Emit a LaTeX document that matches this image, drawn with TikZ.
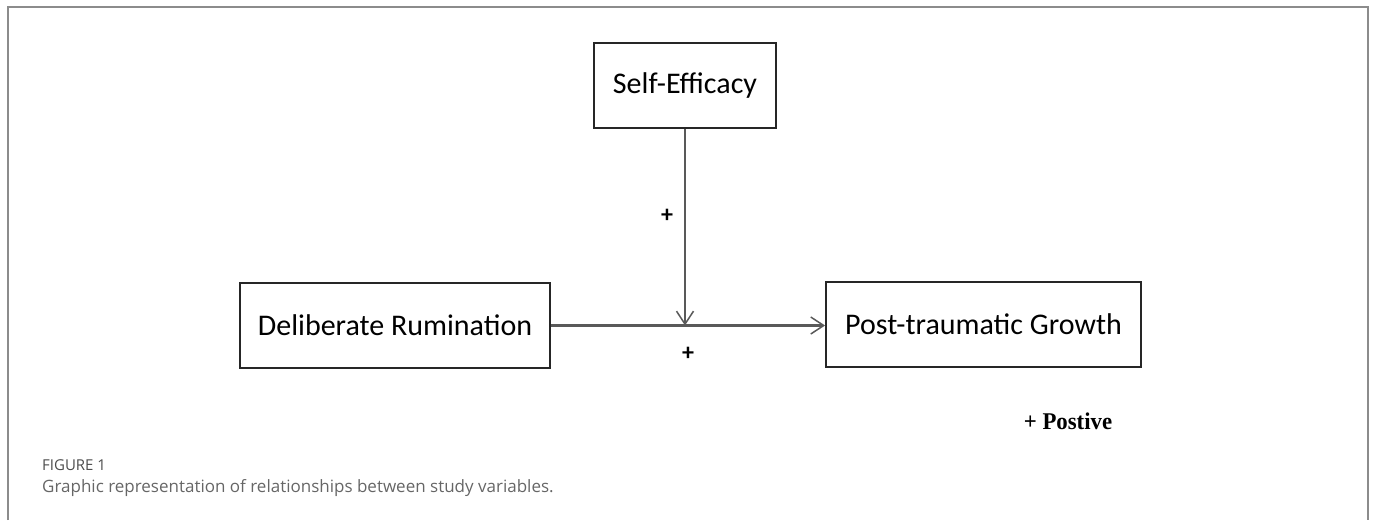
\documentclass[tikz,border=0pt]{standalone}
\usepackage{fontspec}
\setmainfont{Carlito}
\newfontfamily\capfont{Open Sans}
\newfontfamily\legfont{Liberation Serif}
\usetikzlibrary{arrows.meta, calc, positioning}
\tikzstyle{box}=[fill=white, draw=black!85, line width=1.8pt, shape=rectangle, minimum height=85pt, inner sep=0pt, font=\fontsize{30}{36}\selectfont]
\tikzstyle{sign}=[font=\fontsize{24}{28}\selectfont\bfseries, inner sep=0pt]
\tikzstyle{link}=[draw=black!65, -{Straight Barb[length=13pt, width=17pt, line width=1.5pt]}]

\begin{document}
\begin{tikzpicture}[x=1pt, y=-1pt]
	\useasboundingbox (0,0) rectangle (1375,520);
	\draw[black!45, line width=2.2pt] (8,520) -- (8,7) -- (1368,7) -- (1368,520);

	\node[style=box, minimum width=182pt] (se) at (685, 85.5) {Self-Efficacy};
	\node[style=box, minimum width=310pt] (dr) at (395, 325.5) {Deliberate Rumination};
	\node[style=box, minimum width=315pt] (ptg) at (983.5, 324.5) {Post-traumatic Growth};
	\coordinate (m) at (se.south |- dr.east);

	\draw[style=link, line width=2.8pt] (dr.east) to (dr.east -| ptg.west);
	\draw[style=link, line width=1.5pt] (se.south) to (m);

	\node[style=sign] (p1) at (667, 216) {+};
	\node[style=sign] (p2) at (688, 354) {+};
	\node[font=\legfont\fontsize{24}{28}\selectfont\bfseries, inner sep=0pt, xscale=0.95] (key) at (1068, 421) {+ Postive};

	\node[anchor=west, inner sep=0pt, text=black!70, font=\capfont\fontsize{15}{18}\selectfont] (fig) at (42, 465) {FIGURE 1};
	\node[anchor=west, inner sep=0pt, text=black!60, font=\capfont\fontsize{17}{20}\selectfont] (cap) at (42, 488) {Graphic representation of relationships between study variables.};
\end{tikzpicture}
\end{document}
